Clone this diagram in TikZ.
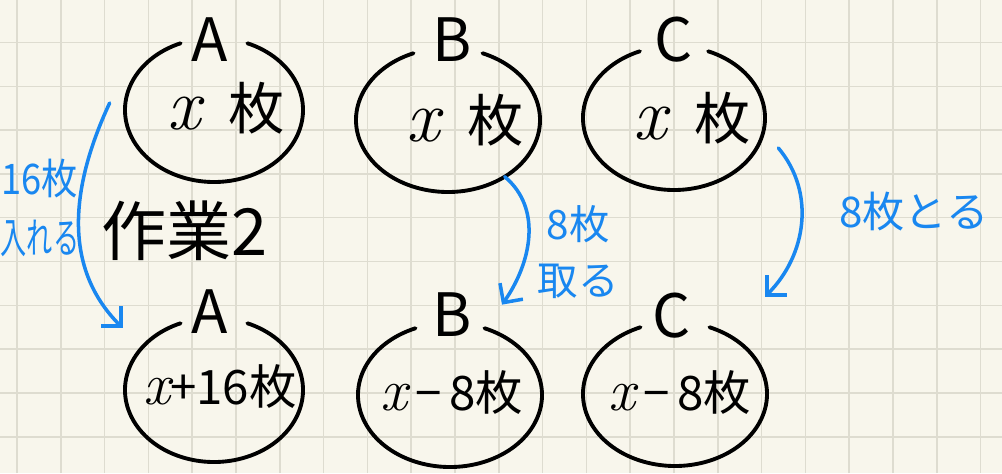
\documentclass[tikz,border=0pt]{standalone}
\usepackage{fontspec}
\usepackage{graphicx}
\usetikzlibrary{arrows.meta, shapes.geometric}
\newfontfamily\jp{Noto Sans CJK JP}
\definecolor{paper}{RGB}{248,246,236}
\definecolor{gridc}{RGB}{222,220,208}
\definecolor{pen}{RGB}{25,135,240}

\begin{document}
\begin{tikzpicture}[
    >={Straight Barb[length=2.8mm, width=5.6mm]},
    pile/.style={ellipse, minimum width=3.64cm, minimum height=2.88cm, inner sep=0pt},
    ring/.style={line width=2.2pt, line cap=round},
    letter/.style={font=\jp\fontsize{34}{34}\selectfont, inner sep=0pt},
    count/.style={font=\jp\fontsize{32}{32}\selectfont, inner sep=0pt},
    total/.style={font=\jp\fontsize{27}{27}\selectfont, inner sep=0pt},
    move/.style={->, pen, line width=2pt, line cap=round},
    note/.style={font=\jp\fontsize{23}{32}\selectfont, text=pen, align=center, inner sep=0pt},
    gridline/.style={gridc, line width=0.9pt},
]

% --- Paper ---
\fill[paper] (0,0) rectangle (20.04,9.46);
\useasboundingbox (0,0) rectangle (20.04,9.46);
\foreach \i in {0,...,22}
    \draw[gridline] (0.34+0.876*\i, 0) -- ++(0, 9.46);
\foreach \j in {1,...,10}
    \draw[gridline] (0, 9.486-0.876*\j) -- ++(20.04, 0);

% --- Before ---
\node[pile] (atop) at (4.28, 7.26) {};
\draw[ring] ([shift={(112:1.78 and 1.44)}]atop.center)
    arc[start angle=112, end angle=428, x radius=1.78, y radius=1.44];
\node[letter] (atopl) at ([shift={(-0.08,-0.04)}]atop.north) {A};
\node[count] (atopn) at ([shift={(0.24,0.04)}]atop.center)
    {{\rmfamily\itshape\fontsize{42}{42}\selectfont x}\enspace 枚};

\node[pile] (btop) at (8.96, 7.06) {};
\draw[ring] ([shift={(112:1.84 and 1.44)}]btop.center)
    arc[start angle=112, end angle=428, x radius=1.84, y radius=1.44];
\node[letter] (btopl) at ([shift={(0.08,0.16)}]btop.north) {B};
\node[count] (btopn) at ([shift={(0.34,0)}]btop.center)
    {{\rmfamily\itshape\fontsize{42}{42}\selectfont x}\enspace 枚};

\node[pile] (ctop) at (13.48, 7.10) {};
\draw[ring] ([shift={(112:1.82 and 1.44)}]ctop.center)
    arc[start angle=112, end angle=428, x radius=1.82, y radius=1.44];
\node[letter] (ctopl) at ([shift={(0,0.12)}]ctop.north) {C};
\node[count] (ctopn) at ([shift={(0.36,0)}]ctop.center)
    {{\rmfamily\itshape\fontsize{42}{42}\selectfont x}\enspace 枚};

% --- After ---
\node[pile] (abot) at (4.28, 1.66) {};
\draw[ring] ([shift={(112:1.78 and 1.44)}]abot.center)
    arc[start angle=112, end angle=428, x radius=1.78, y radius=1.44];
\node[letter] (abotl) at ([shift={(-0.08,0.12)}]abot.north) {A};
\node[total] (abotn) at ([shift={(0.12,0.06)}]abot.center)
    {{\rmfamily\itshape\fontsize{34}{34}\selectfont x}+16枚};

\node[pile] (bbot) at (9.00, 1.56) {};
\draw[ring] ([shift={(112:1.84 and 1.44)}]bbot.center)
    arc[start angle=112, end angle=428, x radius=1.84, y radius=1.44];
\node[letter] (bbotl) at ([shift={(0.04,0.16)}]bbot.north) {B};
\node[total] (bbotn) at ([shift={(0.04,0.04)}]bbot.center)
    {{\rmfamily\itshape\fontsize{34}{34}\selectfont x}\,−\,8枚};

\node[pile] (cbot) at (13.50, 1.58) {};
\draw[ring] ([shift={(112:1.84 and 1.44)}]cbot.center)
    arc[start angle=112, end angle=428, x radius=1.84, y radius=1.44];
\node[letter] (cbotl) at ([shift={(-0.06,0.12)}]cbot.north) {C};
\node[total] (cbotn) at ([shift={(0.1,0.02)}]cbot.center)
    {{\rmfamily\itshape\fontsize{34}{34}\selectfont x}\,−\,8枚};

% --- Moves ---
\draw[move] ([shift={(-0.26,0.14)}]atop.west) to[out=245, in=135]
    ([shift={(0,1.24)}]abot.west);
\draw[move] (btop.-45) to[out=-40, in=55]
    ([shift={(1.04,0.36)}]bbot.north);
\draw[move] ([shift={(0.26,-0.60)}]ctop.east) to[out=-50, in=45]
    ([shift={(1.80,0.50)}]cbot.north);

\node[note, font=\jp\fontsize{24}{34}\selectfont] (addnote) at (0.80, 5.30)
    {\scalebox{0.86}[1]{16枚}\\\scalebox{0.62}[1]{入れる}};
\node[note] (bnote) at (11.56, 4.42) {8枚\\取る};
\node[note, font=\jp\fontsize{24}{24}\selectfont] (cnote) at (18.28, 5.22) {8枚とる};

\node[font=\jp\fontsize{37}{37}\selectfont, inner sep=0pt] (work) at (3.70, 4.84) {作業2};

\end{tikzpicture}
\end{document}
